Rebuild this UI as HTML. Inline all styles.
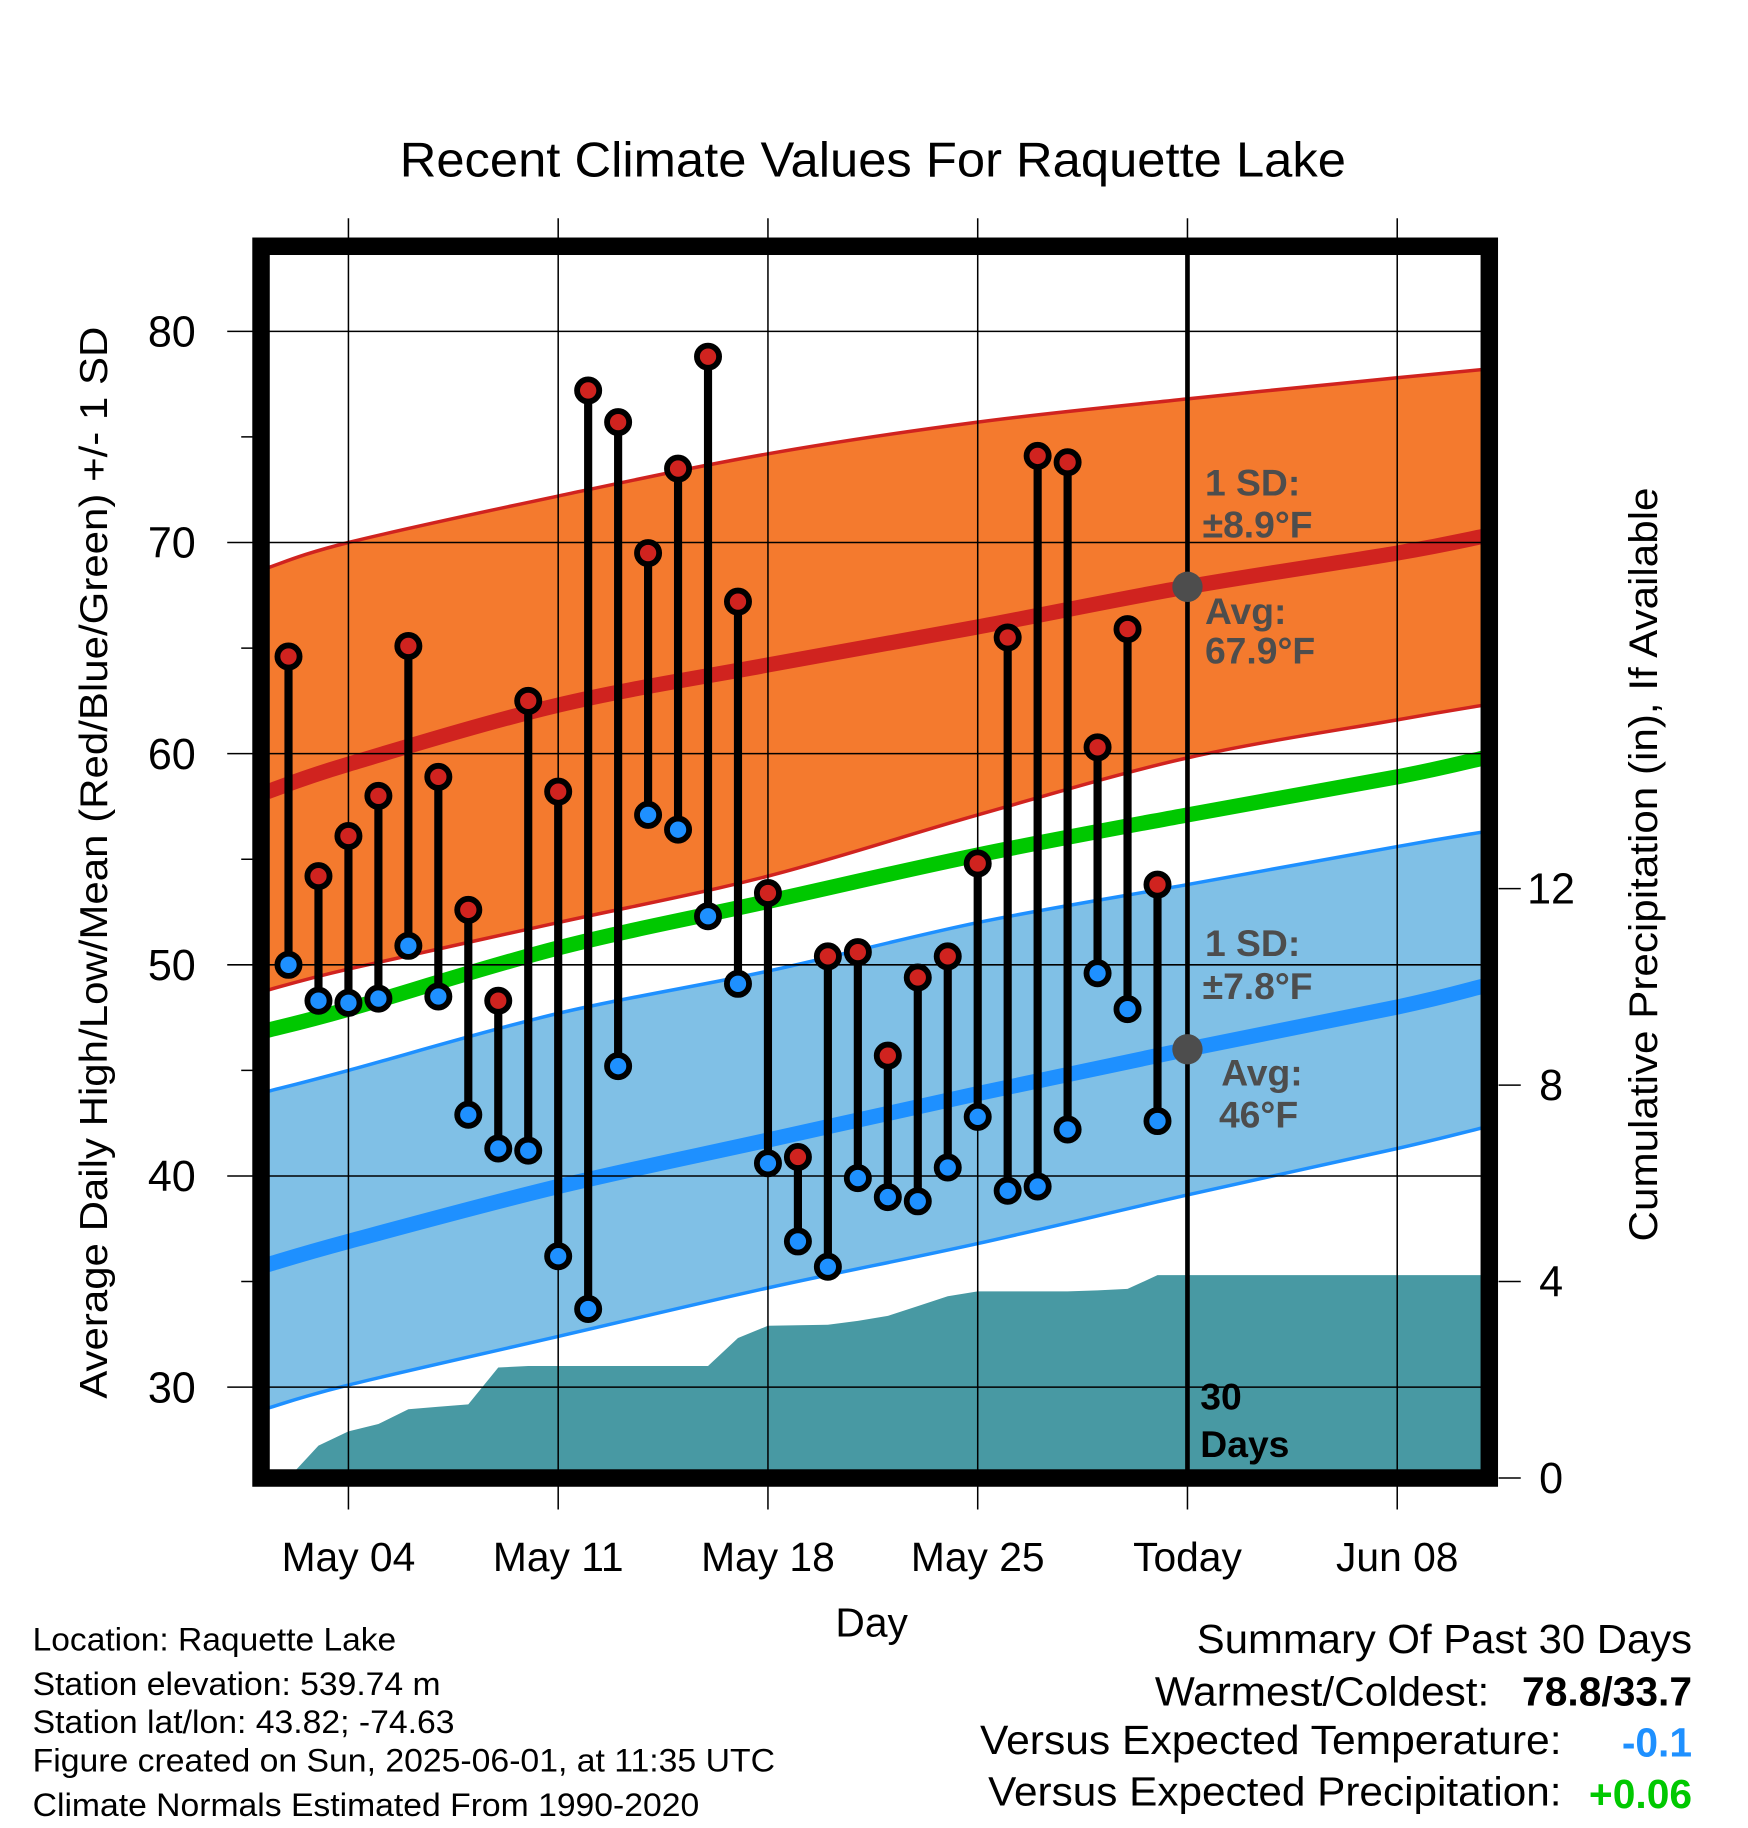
<!DOCTYPE html>
<html><head><meta charset="utf-8"><style>
html,body{margin:0;padding:0;background:#fff;}
svg{display:block;font-family:"Liberation Sans",sans-serif;}
</style></head><body>
<svg id="chart" xmlns="http://www.w3.org/2000/svg" width="1748" height="1828" viewBox="0 0 1500 1568">
<g id="bg"></g>
</svg>
<script>
const days = [2,3,4,5,6,7,8,9,10,11,12,13,14,15,16,17,18,19,20,21,22,23,24,25,26,27,28,29,30,31];
const highs = [64.6,54.2,56.1,58.0,65.1,58.9,52.6,48.3,62.5,58.2,77.2,75.7,69.5,73.5,78.8,67.2,53.4,40.9,50.4,50.6,45.7,49.4,50.4,54.8,65.5,74.1,73.8,60.3,65.9,53.8];
const lows = [50.0,48.3,48.2,48.4,50.9,48.5,42.9,41.3,41.2,36.2,33.7,45.2,57.1,56.4,52.3,49.1,40.6,36.9,35.7,39.9,39.0,38.8,40.4,42.8,39.3,39.5,42.2,49.6,47.9,42.6];
const precip = [0.0,0.66,0.95,1.1,1.4,1.45,1.5,2.25,2.28,2.28,2.28,2.28,2.28,2.28,2.28,2.85,3.1,3.11,3.12,3.2,3.3,3.5,3.7,3.8,3.8,3.8,3.8,3.82,3.85,4.13];
const normDays = [1.3,4,11,18,25,32,39,41.9];
const normHigh = [58.2,59.5,62.3,64.2,66.0,67.9,69.5,70.3];
const normHighUp = [68.8,70.0,72.2,74.2,75.7,76.8,77.8,78.2];
const normHighLo = [48.8,49.8,52.0,54.2,57.1,59.8,61.6,62.3];
const normMean = [46.9,47.9,50.8,53.0,55.2,57.1,58.9,59.8];
const normLow = [35.8,36.9,39.5,41.7,43.9,46.0,48.0,49.0];
const normLowUp = [44.0,45.0,47.7,49.7,52.0,53.8,55.6,56.3];
const normLowLo = [29.0,30.1,32.4,34.7,36.8,39.1,41.3,42.3];
const xTickDays = [4,11,18,25,32,39];
const xTickLabels = ["May 04","May 11","May 18","May 25","Today","Jun 08"];
const yTicks = [30,40,50,60,70,80];
const pTicks = [0,4,8,12];

const NS="http://www.w3.org/2000/svg";
const svg=document.getElementById('chart');
const X=d=>299+(d-4)*25.714;
const Y=v=>1190-(v-30)*18.12;
const P=p=>1268-p*42.15;
const L=231,R=1271,T=218,B=1261;
function el(tag,attrs,parent){const e=document.createElementNS(NS,tag);for(const k in attrs)e.setAttribute(k,attrs[k]);(parent||svg).appendChild(e);return e;}
function txt(s,attrs){const e=el('text',attrs);e.textContent=s;return e;}
function smooth(pts){let d='M'+pts[0][0]+','+pts[0][1];
  for(let i=0;i<pts.length-1;i++){const p0=pts[Math.max(0,i-1)],p1=pts[i],p2=pts[i+1],p3=pts[Math.min(pts.length-1,i+2)];
    d+=' C'+(p1[0]+(p2[0]-p0[0])/6)+','+(p1[1]+(p2[1]-p0[1])/6)+' '+(p2[0]-(p3[0]-p1[0])/6)+','+(p2[1]-(p3[1]-p1[1])/6)+' '+p2[0]+','+p2[1];}
  return d;}
function ptsOf(a){return normDays.map((d,i)=>[X(d),Y(a[i])]);}
const clip=el('clipPath',{id:'pc'});el('rect',{x:L,y:T,width:R-L,height:B-T},clip);
const plot=el('g',{'clip-path':'url(#pc)'});
function band(up,lo,fill,stroke,name){
  const upP=ptsOf(up), loP=ptsOf(lo).reverse();
  const d=smooth(upP)+' L'+smooth(loP).slice(1)+' Z';
  const b=el('path',{d:d,fill:fill},plot);
  
  
  [up,lo].forEach(a=>{const l=el('path',{d:smooth(ptsOf(a)),fill:'none',stroke:stroke,'stroke-width':3},plot);
  
  });
}
band(normHighUp,normHighLo,'#f47a2e','#d0231f','high-sd-band');
band(normLowUp,normLowLo,'#80c0e6','#1e90ff','low-sd-band');
function line(a,color,w,name){const l=el('path',{d:smooth(ptsOf(a)),fill:'none',stroke:color,'stroke-width':w},plot);
  
  }
line(normHigh,'#d0231f',13,'avg-high-line');
line(normMean,'#00c800',13,'avg-mean-line');
line(normLow,'#1e90ff',13,'avg-low-line');
let pp=[X(days[0])+','+P(0)];
days.forEach((d,i)=>pp.push(X(d)+','+P(precip[i])));
pp.push(R+','+P(precip[precip.length-1]));pp.push(R+','+(B+5));pp.push(X(days[0])+','+(B+5));
const pa=el('polygon',{points:pp.join(' '),fill:'#4899a3'},plot);


xTickDays.forEach((d,i)=>{
  const g=el('line',{x1:X(d),x2:X(d),y1:187,y2:1295,stroke:'#000','stroke-width':1.3});
  
  
  const t=txt(xTickLabels[i],{x:X(d),y:1348,'font-size':35,'text-anchor':'middle'});
  
  
});
yTicks.forEach(v=>{
  const g=el('line',{x1:195,x2:R,y1:Y(v),y2:Y(v),stroke:'#000','stroke-width':1.3});
  
  
  const t=txt(String(v),{x:168,y:Y(v)+13,'font-size':37,'text-anchor':'end'});
  
  
});
for(let v=35;v<=80;v+=10){const m=el('line',{x1:207,x2:224,y1:Y(v),y2:Y(v),stroke:'#000','stroke-width':1.3});
  
  }
pTicks.forEach(p=>{
  const m=el('line',{x1:1286,x2:1305,y1:P(p),y2:P(p),stroke:'#000','stroke-width':1.3});
  
  
  const t=txt(String(p),{x:1331,y:P(p)+13,'font-size':37,'text-anchor':'middle'});
  
  
});
const tl=el('line',{x1:X(32),x2:X(32),y1:T,y2:B,stroke:'#000','stroke-width':4});


days.forEach((d,i)=>{
  const g=el('g',{});
  
  
  el('line',{x1:X(d),x2:X(d),y1:Y(highs[i]),y2:Y(lows[i]),stroke:'#000','stroke-width':7},g);
  const h=el('circle',{cx:X(d),cy:Y(highs[i]),r:9.5,fill:'#d0231f',stroke:'#000','stroke-width':5},g);
  
  
  const lw=el('circle',{cx:X(d),cy:Y(lows[i]),r:9.5,fill:'#1e90ff',stroke:'#000','stroke-width':5},g);
  
  
});
[67.9,46].forEach(v=>{const c=el('circle',{cx:X(32),cy:Y(v),r:13,fill:'#4d4d4d'});
  
  });
const fr=el('rect',{x:224,y:211,width:1054,height:1057,fill:'none',stroke:'#000','stroke-width':15});


</script>
<svg style="position:absolute;left:0;top:0" width="1748" height="1828" viewBox="0 0 1500 1568" font-family="Liberation Sans, sans-serif">
<text x="343" y="151" font-size="42" textLength="812" lengthAdjust="spacingAndGlyphs">Recent Climate Values For Raquette Lake</text>
<text transform="translate(92,1200) rotate(-90)" font-size="33" textLength="920" lengthAdjust="spacingAndGlyphs">Average Daily High/Low/Mean (Red/Blue/Green) +/- 1 SD</text>
<text transform="translate(1422,1065) rotate(-90)" font-size="34" textLength="647" lengthAdjust="spacingAndGlyphs">Cumulative Precipitation (in), If Available</text>
<text x="748" y="1404" font-size="35" text-anchor="middle">Day</text>
<g font-weight="bold" fill="#4d4d4d" font-size="32">
<text x="1034" y="425">1 SD:</text><text x="1032" y="461">±8.9°F</text>
<text x="1034" y="535">Avg:</text><text x="1034" y="569">67.9°F</text>
<text x="1034" y="820">1 SD:</text><text x="1032" y="857">±7.8°F</text>
<text x="1048" y="931">Avg:</text><text x="1046" y="967">46°F</text>
</g>
<g font-weight="bold" font-size="32"><text x="1030" y="1209">30</text><text x="1030" y="1250">Days</text></g>
<g font-size="28">
<text x="28" y="1416" textLength="312" lengthAdjust="spacingAndGlyphs">Location: Raquette Lake</text>
<text x="28" y="1454" textLength="350" lengthAdjust="spacingAndGlyphs">Station elevation: 539.74 m</text>
<text x="28" y="1487" textLength="362" lengthAdjust="spacingAndGlyphs">Station lat/lon: 43.82; -74.63</text>
<text x="28" y="1520" textLength="637" lengthAdjust="spacingAndGlyphs">Figure created on Sun, 2025-06-01, at 11:35 UTC</text>
<text x="28" y="1558" textLength="572" lengthAdjust="spacingAndGlyphs">Climate Normals Estimated From 1990-2020</text>
</g>
<g font-size="35">
<text x="1027" y="1418" textLength="425" lengthAdjust="spacingAndGlyphs">Summary Of Past 30 Days</text>
<text x="991" y="1463" textLength="287" lengthAdjust="spacingAndGlyphs">Warmest/Coldest:</text>
<text x="1452" y="1463" text-anchor="end" font-weight="bold">78.8/33.7</text>
<text x="841" y="1505" textLength="499" lengthAdjust="spacingAndGlyphs">Versus Expected Temperature:</text>
<text x="1452" y="1507" text-anchor="end" font-weight="bold" fill="#1e90ff">-0.1</text>
<text x="848" y="1549" textLength="492" lengthAdjust="spacingAndGlyphs">Versus Expected Precipitation:</text>
<text x="1452" y="1551" text-anchor="end" font-weight="bold" fill="#00c800">+0.06</text>
</g>
</svg>
</body></html>
